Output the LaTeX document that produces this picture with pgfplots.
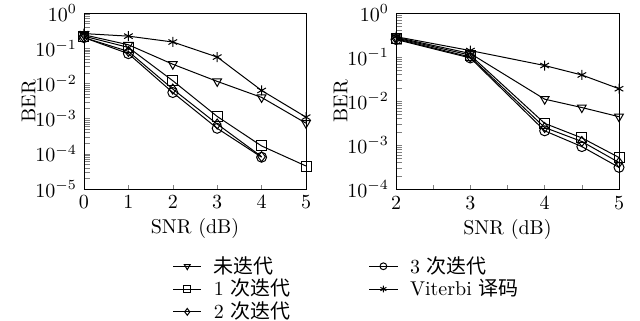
\documentclass[border=0pt]{standalone}
\usepackage{pgfplots}
\pgfplotsset{compat=1.18}
\usepackage{fontspec}
\newfontfamily\cjk{Noto Sans CJK SC}
\begin{document}
\begin{tikzpicture}
\useasboundingbox (-42pt,-65.5pt) rectangle (278pt,94.5pt);
\pgfplotsset{
  every axis/.append style={
    scale only axis, height=88pt, ymode=log,
    xtick pos=left, ytick pos=left, major tick length=2pt,
    ylabel={BER}, xlabel={SNR (dB)},
    ylabel style={yshift=-7pt}, xlabel style={yshift=2pt},
    every axis plot/.append style={black, line width=0.5pt, mark size=2.5pt},
  },
  tri/.style={mark=triangle, mark options={rotate=180, solid}},
}
\begin{axis}[
  width=111pt, xmin=0, xmax=5, ymin=1e-5, ymax=1,
  xtick={0,1,2,3,4,5}, ytick={1e-5,1e-4,1e-3,1e-2,1e-1,1},
  legend columns=2,
  legend style={draw=none, at={(0.37,-0.335)}, anchor=north west,
    font=\normalsize, row sep=-2.5pt,
    /tikz/every odd column/.append style={column sep=4pt},
    /tikz/every even column/.append style={column sep=37pt}},
  legend cell align=left,
  legend image code/.code={\draw[mark repeat=2,mark phase=2,mark size=1.7pt] plot coordinates {(0cm,0cm) (0.25cm,0cm) (0.5cm,0cm)};},
]
\addplot[tri] coordinates {(0,0.24) (1,0.125) (2,0.035) (3,0.0114) (4,0.004) (5,0.00074)};
\addlegendentry{\cjk 未迭代}
\addplot[mark=o] coordinates {(0,0.2) (1,0.07) (2,0.0055) (3,0.00053) (4,0.00008)};
\addlegendentry{3 \cjk 次迭代}
\addplot[mark=square] coordinates {(0,0.22) (1,0.105) (2,0.0119) (3,0.00115) (4,0.000167) (5,0.000045)};
\addlegendentry{1 \cjk 次迭代}
\addplot[mark=asterisk] coordinates {(0,0.26) (1,0.22) (2,0.15) (3,0.056) (4,0.0063) (5,0.0011)};
\addlegendentry{Viterbi \cjk 译码}
\addplot[mark=diamond] coordinates {(0,0.2) (1,0.081) (2,0.0069) (3,0.0007) (4,0.000083)};
\addlegendentry{2 \cjk 次迭代}
\end{axis}
\begin{axis}[
  at={(156pt,0pt)},
  width=111.5pt, xmin=2, xmax=5, ymin=1e-4, ymax=1,
  xtick={2,2.5,...,5}, xticklabels={2,,3,,4,,5},
  ytick={1e-4,1e-3,1e-2,1e-1,1},
]
\addplot[tri] coordinates {(2,0.28) (3,0.12) (4,0.011) (4.5,0.0071) (5,0.0044)};
\addplot[mark=o] coordinates {(2,0.25) (3,0.095) (4,0.0021) (4.5,0.00092) (5,0.00031)};
\addplot[mark=square] coordinates {(2,0.27) (3,0.11) (4,0.0031) (4.5,0.00145) (5,0.00052)};
\addplot[mark=asterisk] coordinates {(2,0.29) (3,0.14) (4,0.064) (4.5,0.039) (5,0.019)};
\addplot[mark=diamond] coordinates {(2,0.26) (3,0.1) (4,0.0025) (4.5,0.0012) (5,0.0004)};
\end{axis}
\end{tikzpicture}
\end{document}
